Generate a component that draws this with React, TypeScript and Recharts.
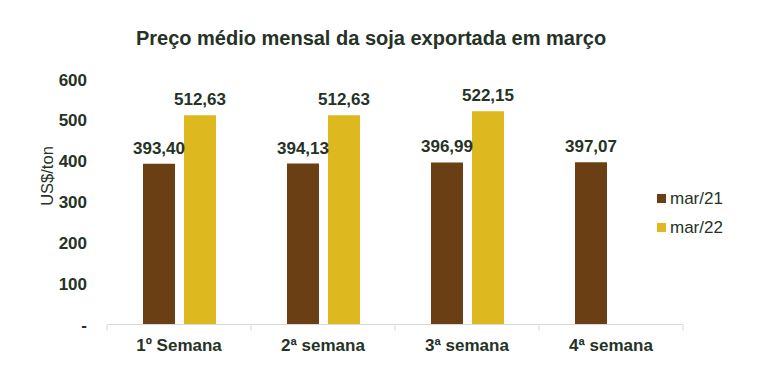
import React from 'react';
import { BarChart, Bar, XAxis, YAxis, LabelList, Legend } from 'recharts';

const categories = ['1º Semana', '2ª semana', '3ª semana', '4ª semana'];
const mar21 = [393.4, 394.13, 396.99, 397.07];
const mar22: (number | null)[] = [512.63, 512.63, 522.15, null];
const yTicks = [0, 100, 200, 300, 400, 500, 600];
const seriesNames = ['mar/21', 'mar/22'];

const data = categories.map((c, i) => ({ name: c, mar21: mar21[i], mar22: mar22[i] }));

const FONT = '"Liberation Sans", Arial, sans-serif';
const TEXT = '#263226';
const BROWN = '#693F13';
const YELLOW = '#DDB81E';
const AXIS = '#D9D9D9';
const TICK_MARGIN = 14;

const fmt = (v: any) => (v == null ? '' : Number(v).toFixed(2).replace('.', ','));

const XTick = (props: any) => {
  const { x, y, payload, index, width } = props;
  const half = payload && typeof payload.offset === 'number' && payload.offset > 0
    ? payload.offset
    : (width || 576) / categories.length / 2;
  const axisY = y - TICK_MARGIN;
  const isLast = index === categories.length - 1;
  return (
    <g>
      <line x1={x - half} x2={x - half} y1={axisY} y2={axisY + 6} stroke={AXIS} />
      {isLast && <line x1={x + half} x2={x + half} y1={axisY} y2={axisY + 6} stroke={AXIS} />}
      <text x={x} y={y} dy="0.71em" textAnchor="middle" fontFamily={FONT} fontSize={17} fontWeight="bold"
        fill={TEXT}>{payload.value}</text>
    </g>
  );
};

const LegendContent = (props: any) => {
  const { payload } = props;
  return (
    <div style={{ fontFamily: FONT, fontSize: 17, color: TEXT }}>
      {(payload || []).map((p: any, i: number) => (
        <div key={i} style={{ display: 'flex', alignItems: 'center', height: 29 }}>
          <span style={{ display: 'inline-block', width: 9, height: 9, background: p.color, marginRight: 4 }} />
          <span>{p.value}</span>
        </div>
      ))}
    </div>
  );
};

const YLabel = (props: any) => {
  const vb = props.viewBox || { x: 0, y: 0, width: 0, height: 0 };
  const x = vb.x + 17;
  const y = vb.y + vb.height / 2 - 26;
  return (
    <text x={x} y={y} transform={`rotate(-90, ${x}, ${y})`} textAnchor="middle" dominantBaseline="central"
      fontFamily={FONT} fontSize={16.5} fill={TEXT}>US$/ton</text>
  );
};

export default function App() {
  return (
    <div style={{ position: 'absolute', left: 0, top: 0, width: 767, height: 385, background: '#fff' }}>
      <div style={{ position: 'absolute', left: 0, top: 28, width: 742, textAlign: 'center', fontFamily: FONT,
        fontWeight: 'bold', fontSize: 20, lineHeight: '20px', color: TEXT }}>
        Preço médio mensal da soja exportada em março
      </div>
      <BarChart width={767} height={385} data={data} margin={{ top: 79.5, right: 84, bottom: 30.5, left: 30 }}
        barGap={9}>
        <XAxis dataKey="name" height={30} axisLine={{ stroke: AXIS }} tickLine={false} tickSize={0}
          tickMargin={TICK_MARGIN} tick={<XTick />} interval={0} />
        <YAxis width={77} domain={[0, 600]} ticks={yTicks} axisLine={false} tickLine={false} tickSize={0}
          tickMargin={20} interval={0}
          tickFormatter={(v: number) => (v === 0 ? '-' : String(v))}
          tick={{ fontFamily: FONT, fontSize: 17, fontWeight: 'bold', fill: TEXT }}
          label={{ content: YLabel } as any} />
        <Legend layout="horizontal" verticalAlign="middle" align="center" content={LegendContent}
          wrapperStyle={{ left: 657, top: 184, width: 100 }} />
        <Bar dataKey="mar21" name={seriesNames[0]} fill={BROWN} barSize={32} isAnimationActive={false}>
          <LabelList dataKey="mar21" position="top" offset={10} formatter={fmt}
            style={{ fontFamily: FONT, fontSize: 17, fontWeight: 'bold', fill: TEXT }} />
        </Bar>
        <Bar dataKey="mar22" name={seriesNames[1]} fill={YELLOW} barSize={32} isAnimationActive={false}>
          <LabelList dataKey="mar22" position="top" offset={10} formatter={fmt}
            style={{ fontFamily: FONT, fontSize: 17, fontWeight: 'bold', fill: TEXT }} />
        </Bar>
      </BarChart>
    </div>
  );
}
